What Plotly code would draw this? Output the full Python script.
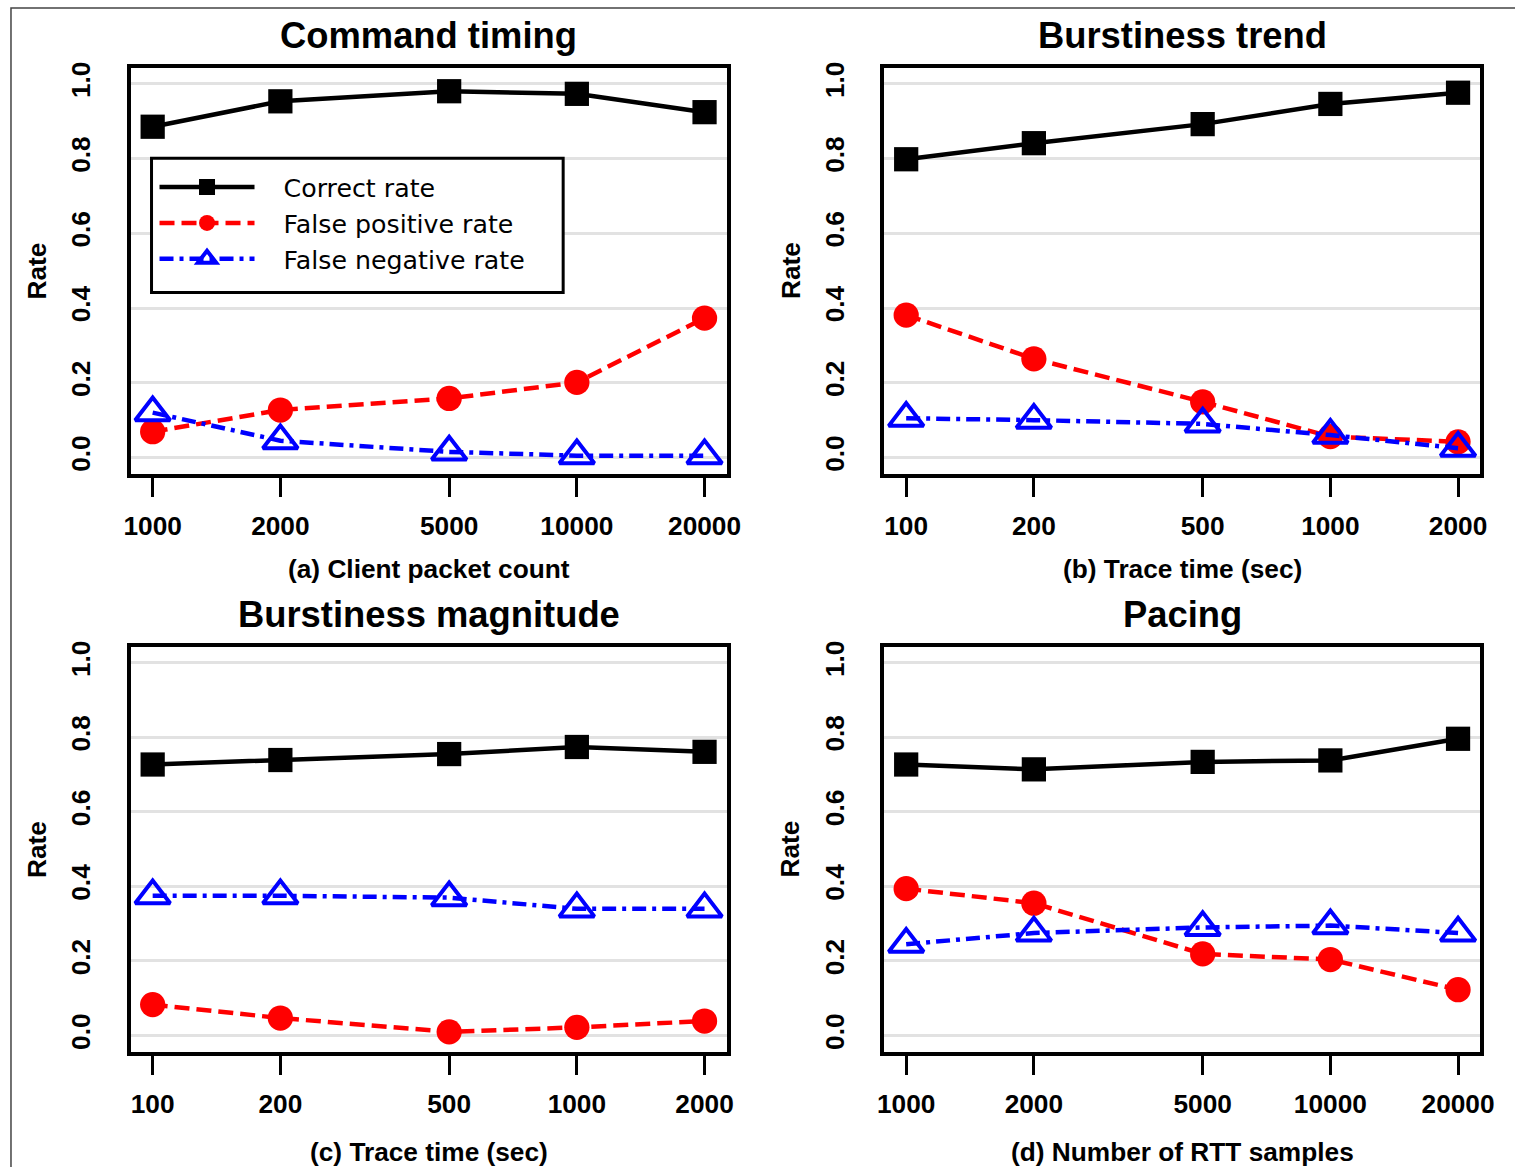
import math
import plotly.graph_objects as go

# x values for each panel (log-scaled axes)
packet_counts = [1000, 2000, 5000, 10000, 20000]
trace_times = [100, 200, 500, 1000, 2000]
rtt_samples = [1000, 2000, 5000, 10000, 20000]

packet_labels = ["1000", "2000", "5000", "10000", "20000"]
time_labels = ["100", "200", "500", "1000", "2000"]
rtt_labels = ["1000", "2000", "5000", "10000", "20000"]

# (a) Command timing
cmd_correct = [0.885, 0.953, 0.980, 0.973, 0.924]
cmd_fp = [0.069, 0.127, 0.158, 0.201, 0.373]
cmd_fn = [0.120, 0.045, 0.015, 0.005, 0.005]

# (b) Burstiness trend
trend_correct = [0.798, 0.841, 0.892, 0.946, 0.976]
trend_fp = [0.381, 0.264, 0.149, 0.056, 0.042]
trend_fn = [0.105, 0.100, 0.090, 0.060, 0.025]

# (c) Burstiness magnitude
mag_correct = [0.727, 0.739, 0.755, 0.774, 0.761]
mag_fp = [0.083, 0.047, 0.010, 0.022, 0.039]
mag_fn = [0.375, 0.375, 0.370, 0.340, 0.340]

# (d) Pacing
pace_correct = [0.727, 0.714, 0.734, 0.738, 0.796]
pace_fp = [0.394, 0.355, 0.219, 0.204, 0.123]
pace_fn = [0.245, 0.275, 0.290, 0.295, 0.275]

y_ticks = [0.0, 0.2, 0.4, 0.6, 0.8, 1.0]
series_names = ["Correct rate", "False positive rate", "False negative rate"]

# Layout positions are given in pixels of the final view; the page offsets
# the figure slightly and squeezes it a little horizontally.
W, H = 1515, 1167
OFF_X, SCALE_X = 3.0, 0.9894
OFF_Y = 3.0
K = 1.01
FONT = "Liberation Sans, Arial, Helvetica, sans-serif"
LEGEND_FONT = "DejaVu Sans, Verdana, sans-serif"
NB = "\u00a0"


def fx(p):
    """view pixel (from left) -> paper x"""
    return ((p - OFF_X) / SCALE_X) / W


def fy(p):
    """view pixel (from top) -> paper y"""
    return 1 - (p - OFF_Y) / H


panels = [
    dict(x=packet_counts, labels=packet_labels,
         ys=[cmd_correct, cmd_fp, cmd_fn],
         title="Command timing", xlabel="(a) Client packet count",
         box=(127, 65, 725, 473)),
    dict(x=trace_times, labels=time_labels,
         ys=[trend_correct, trend_fp, trend_fn],
         title="Burstiness trend", xlabel="(b) Trace time (sec)",
         box=(883, 65, 1481, 473)),
    dict(x=trace_times, labels=time_labels,
         ys=[mag_correct, mag_fp, mag_fn],
         title="Burstiness magnitude", xlabel="(c) Trace time (sec)",
         box=(127, 647, 725, 1054)),
    dict(x=rtt_samples, labels=rtt_labels,
         ys=[pace_correct, pace_fp, pace_fn],
         title="Pacing", xlabel="(d) Number of RTT samples",
         box=(883, 647, 1481, 1054)),
]

styles = [
    dict(line=dict(color="#000000", width=4.5, dash="solid"),
         marker=dict(symbol="square", size=24 * K, color="#000000")),
    dict(line=dict(color="#ff0000", width=4.5, dash="15px,7px"),
         marker=dict(symbol="circle", size=25 * K, color="#ff0000")),
    dict(line=dict(color="#0000ff", width=4.5, dash="14px,6px,4px,6px"),
         marker=dict(symbol="triangle-up-open", size=30 * K, color="#0000ff",
                     line=dict(width=4, color="#0000ff"))),
]

fig = go.Figure()
annotations = []
layout_axes = {}

for i, p in enumerate(panels, start=1):
    xa = "x" if i == 1 else f"x{i}"
    ya = "y" if i == 1 else f"y{i}"
    for name, yv, st in zip(series_names, p["ys"], styles):
        label = NB * 3 + name
        fig.add_trace(go.Scatter(
            x=p["x"], y=yv, mode="lines+markers", name=label,
            line=st["line"], marker=st["marker"],
            xaxis=xa, yaxis=ya, showlegend=(i == 1), cliponaxis=False,
        ))

    x0, y0, x1, y1 = p["box"]
    lo, hi = math.log10(min(p["x"])), math.log10(max(p["x"]))
    pad = 0.04 * (hi - lo)
    key_x = "xaxis" if i == 1 else f"xaxis{i}"
    key_y = "yaxis" if i == 1 else f"yaxis{i}"
    layout_axes[key_x] = dict(
        type="log", domain=[fx(x0), fx(x1)], anchor=ya,
        range=[lo - pad, hi + pad],
        tickvals=p["x"], ticktext=p["labels"],
        showline=True, linewidth=3.5, linecolor="black", mirror=True,
        ticks="outside", ticklen=20, tickwidth=2.5, tickcolor="black",
        ticklabelstandoff=6,
        tickfont=dict(family=FONT, size=26 * K, color="black", weight="bold"),
        showgrid=False, zeroline=False,
    )
    layout_axes[key_y] = dict(
        domain=[fy(y1), fy(y0)], anchor=xa,
        range=[-0.043, 1.043],
        tickvals=y_ticks, ticktext=[f"{v:.1f}" for v in y_ticks],
        tickangle=-90, ticks="", ticklabelstandoff=26,
        tickfont=dict(family=FONT, size=26 * K, color="black", weight="bold"),
        showline=True, linewidth=3.5, linecolor="black", mirror=True,
        showgrid=True, gridcolor="#e2e2e2", gridwidth=2.5, zeroline=False,
    )

    cx = fx((x0 + x1) / 2)
    annotations.append(dict(
        text=p["title"], xref="paper", yref="paper", x=cx, y=fy(y0 - 32),
        xanchor="center", yanchor="middle", showarrow=False,
        font=dict(family=FONT, size=36 * K, color="black", weight="bold")))
    # lowest axis titles sit at the bottom edge of the page
    xl_y = fy(y1 + 96) if y0 < 500 else 15.5 / H
    annotations.append(dict(
        text=p["xlabel"], xref="paper", yref="paper", x=cx, y=xl_y,
        xanchor="center", yanchor="middle", showarrow=False,
        font=dict(family=FONT, size=26 * K, color="black", weight="bold")))
    annotations.append(dict(
        text="Rate", xref="paper", yref="paper", x=fx(x0 - 94),
        y=fy((y0 + y1) / 2), xanchor="center", yanchor="middle",
        textangle=-90, showarrow=False,
        font=dict(family=FONT, size=26 * K, color="black", weight="bold")))

fig.update_layout(
    width=W, height=H,
    margin=dict(l=0, r=0, t=0, b=0),
    paper_bgcolor="white", plot_bgcolor="white",
    annotations=annotations,
    legend=dict(
        x=fx(151), y=fy(162), xanchor="left", yanchor="top",
        borderwidth=0, bgcolor="rgba(0,0,0,0)",
        font=dict(family=LEGEND_FONT, size=25 * K, color="black"),
        itemwidth=95, tracegroupgap=0,
    ),
    shapes=[
        # outer frame, open towards the right and bottom edges
        dict(type="rect", xref="paper", yref="paper",
             x0=fx(7), y0=-0.05, x1=1.05, y1=fy(5),
             line=dict(color="#444444", width=1.5)),
        # legend box
        dict(type="rect", xref="paper", yref="paper", layer="above",
             x0=fx(148), x1=fx(561), y0=fy(291), y1=fy(156),
             fillcolor="white", line=dict(color="black", width=3)),
    ],
    **layout_axes,
)

fig.write_html("out.html")
